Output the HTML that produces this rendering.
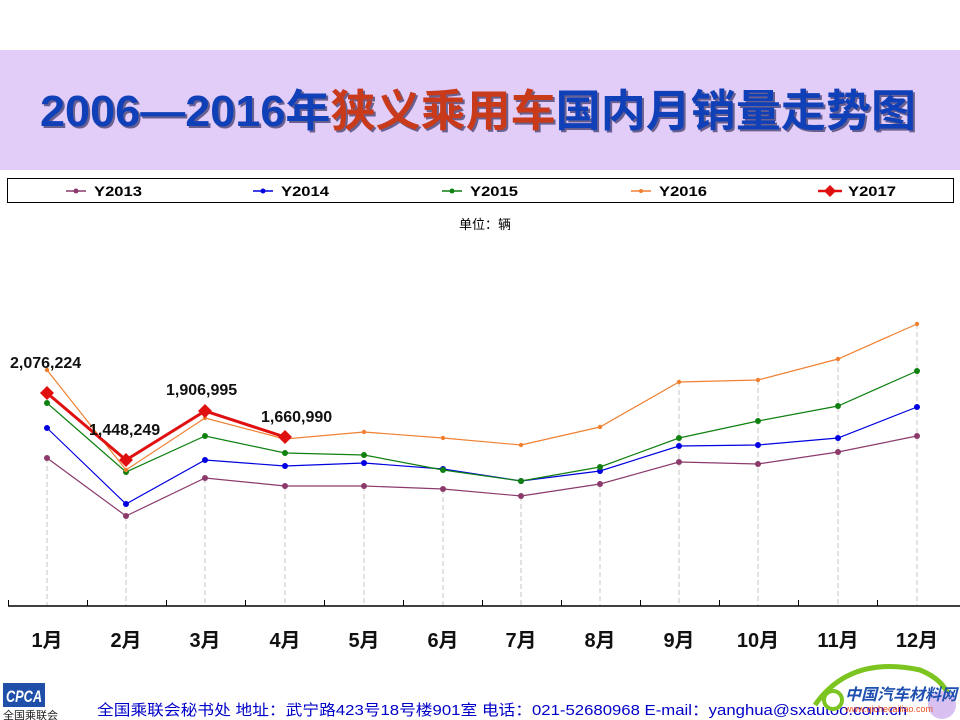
<!DOCTYPE html>
<html><head><meta charset="utf-8"><style>
html,body{margin:0;padding:0;background:#fff;}
svg{display:block;}
text{font-family:"Liberation Sans","Noto Sans CJK SC",sans-serif;}
</style></head><body>
<svg width="960" height="720" viewBox="0 0 960 720" xmlns="http://www.w3.org/2000/svg">
<rect x="0" y="50" width="960" height="120" fill="#E2CCF8"/>
<g font-weight="bold" font-size="44">
<text x="42" y="128" fill="#1a1a4a" opacity="0.6" textLength="876" lengthAdjust="spacingAndGlyphs"><tspan>2006—2016年狭义乘用车国内月销量走势图</tspan></text>
<text x="40" y="126" textLength="876" lengthAdjust="spacingAndGlyphs"><tspan fill="#1040B8">2006—2016年</tspan><tspan fill="#C83A1A">狭义乘用车</tspan><tspan fill="#1040B8">国内月销量走势图</tspan></text>
</g>
<rect x="7.5" y="178.5" width="946" height="24" fill="#fff" stroke="#000" stroke-width="1"/>
<g font-size="14" font-weight="bold" fill="#000">
<line x1="66" y1="191" x2="86" y2="191" stroke="#8B3A6B" stroke-width="1.5"/><circle cx="76" cy="191" r="2.5" fill="#8B3A6B"/><text x="94" y="196" textLength="48" lengthAdjust="spacingAndGlyphs">Y2013</text>
<line x1="253" y1="191" x2="273" y2="191" stroke="#0000E0" stroke-width="1.5"/><circle cx="263" cy="191" r="2.5" fill="#0000E0"/><text x="281" y="196" textLength="48" lengthAdjust="spacingAndGlyphs">Y2014</text>
<line x1="442" y1="191" x2="462" y2="191" stroke="#108010" stroke-width="1.5"/><circle cx="452" cy="191" r="2.5" fill="#108010"/><text x="470" y="196" textLength="48" lengthAdjust="spacingAndGlyphs">Y2015</text>
<line x1="631" y1="191" x2="651" y2="191" stroke="#F08030" stroke-width="1.5"/><circle cx="641" cy="191" r="2" fill="#F08030"/><text x="659" y="196" textLength="48" lengthAdjust="spacingAndGlyphs">Y2016</text>
<line x1="818" y1="191" x2="842" y2="191" stroke="#E01010" stroke-width="2.5"/><path d="M830 185 L836 191 L830 197 L824 191Z" fill="#E01010"/><text x="848" y="196" textLength="48" lengthAdjust="spacingAndGlyphs">Y2017</text>
</g>
<text x="485" y="229" font-size="13" text-anchor="middle">单位：辆</text>
<g stroke="#c4c4c4" stroke-width="1" stroke-dasharray="5,3">
<line x1="47" y1="458" x2="47" y2="606"/><line x1="126" y1="516" x2="126" y2="606"/><line x1="205" y1="478" x2="205" y2="606"/><line x1="285" y1="486" x2="285" y2="606"/><line x1="364" y1="486" x2="364" y2="606"/><line x1="443" y1="489" x2="443" y2="606"/><line x1="521" y1="496" x2="521" y2="606"/><line x1="600" y1="484" x2="600" y2="606"/><line x1="679" y1="382" x2="679" y2="606"/><line x1="758" y1="380" x2="758" y2="606"/><line x1="838" y1="359" x2="838" y2="606"/><line x1="917" y1="324" x2="917" y2="606"/>
</g>
<line x1="8" y1="606" x2="960" y2="606" stroke="#000" stroke-width="1.5"/>
<g stroke="#000" stroke-width="1">
<line x1="8.5" y1="600" x2="8.5" y2="606"/><line x1="87.5" y1="600" x2="87.5" y2="606"/><line x1="166.5" y1="600" x2="166.5" y2="606"/><line x1="245.5" y1="600" x2="245.5" y2="606"/><line x1="324.5" y1="600" x2="324.5" y2="606"/><line x1="403.5" y1="600" x2="403.5" y2="606"/><line x1="482.5" y1="600" x2="482.5" y2="606"/><line x1="561.5" y1="600" x2="561.5" y2="606"/><line x1="640.5" y1="600" x2="640.5" y2="606"/><line x1="719.5" y1="600" x2="719.5" y2="606"/><line x1="798.5" y1="600" x2="798.5" y2="606"/><line x1="877.5" y1="600" x2="877.5" y2="606"/>
</g>
<g fill="none" stroke-width="1.2">
<polyline stroke="#8B3A6B" points="47,458 126,516 205,478 285,486 364,486 443,489 521,496 600,484 679,462 758,464 838,452 917,436"/>
<polyline stroke="#0000E0" points="47,428 126,504 205,460 285,466 364,463 443,469 521,481 600,471 679,446 758,445 838,438 917,407"/>
<polyline stroke="#108010" points="47,403 126,472 205,436 285,453 364,455 443,470 521,481 600,467 679,438 758,421 838,406 917,371"/>
<polyline stroke="#F08030" points="47,370 126,470 205,418 285,439 364,432 443,438 521,445 600,427 679,382 758,380 838,359 917,324"/>
<polyline stroke="#E01010" stroke-width="3" points="47,393 126,460 205,411 285,437"/>
</g>
<g fill="#8B3A6B"><circle cx="47" cy="458" r="3"/><circle cx="126" cy="516" r="3"/><circle cx="205" cy="478" r="3"/><circle cx="285" cy="486" r="3"/><circle cx="364" cy="486" r="3"/><circle cx="443" cy="489" r="3"/><circle cx="521" cy="496" r="3"/><circle cx="600" cy="484" r="3"/><circle cx="679" cy="462" r="3"/><circle cx="758" cy="464" r="3"/><circle cx="838" cy="452" r="3"/><circle cx="917" cy="436" r="3"/></g>
<g fill="#0000E0"><circle cx="47" cy="428" r="3"/><circle cx="126" cy="504" r="3"/><circle cx="205" cy="460" r="3"/><circle cx="285" cy="466" r="3"/><circle cx="364" cy="463" r="3"/><circle cx="443" cy="469" r="3"/><circle cx="521" cy="481" r="3"/><circle cx="600" cy="471" r="3"/><circle cx="679" cy="446" r="3"/><circle cx="758" cy="445" r="3"/><circle cx="838" cy="438" r="3"/><circle cx="917" cy="407" r="3"/></g>
<g fill="#108010"><circle cx="47" cy="403" r="3"/><circle cx="126" cy="472" r="3"/><circle cx="205" cy="436" r="3"/><circle cx="285" cy="453" r="3"/><circle cx="364" cy="455" r="3"/><circle cx="443" cy="470" r="3"/><circle cx="521" cy="481" r="3"/><circle cx="600" cy="467" r="3"/><circle cx="679" cy="438" r="3"/><circle cx="758" cy="421" r="3"/><circle cx="838" cy="406" r="3"/><circle cx="917" cy="371" r="3"/></g>
<g fill="#F08030"><circle cx="47" cy="370" r="2.2"/><circle cx="126" cy="470" r="2.2"/><circle cx="205" cy="418" r="2.2"/><circle cx="285" cy="439" r="2.2"/><circle cx="364" cy="432" r="2.2"/><circle cx="443" cy="438" r="2.2"/><circle cx="521" cy="445" r="2.2"/><circle cx="600" cy="427" r="2.2"/><circle cx="679" cy="382" r="2.2"/><circle cx="758" cy="380" r="2.2"/><circle cx="838" cy="359" r="2.2"/><circle cx="917" cy="324" r="2.2"/></g>
<g fill="#E01010"><path d="M47 386 L54 393 L47 400 L40 393Z"/><path d="M126 453 L133 460 L126 467 L119 460Z"/><path d="M205 404 L212 411 L205 418 L198 411Z"/><path d="M285 430 L292 437 L285 444 L278 437Z"/></g>
<g font-size="16" font-weight="bold" fill="#111">
<text x="10" y="368">2,076,224</text>
<text x="89" y="435">1,448,249</text>
<text x="166" y="395">1,906,995</text>
<text x="261" y="422">1,660,990</text>
</g>
<g font-size="20" font-weight="bold" fill="#111" text-anchor="middle">
<text x="47" y="647">1月</text><text x="126" y="647">2月</text><text x="205" y="647">3月</text><text x="285" y="647">4月</text><text x="364" y="647">5月</text><text x="443" y="647">6月</text><text x="521" y="647">7月</text><text x="600" y="647">8月</text><text x="679" y="647">9月</text><text x="758" y="647">10月</text><text x="838" y="647">11月</text><text x="917" y="647">12月</text>
</g>
<rect x="3" y="683" width="42" height="24" fill="#1F4FA8"/>
<text x="6" y="702" font-size="17" font-style="italic" font-weight="bold" fill="#fff" textLength="36" lengthAdjust="spacingAndGlyphs">CPCA</text>
<text x="3" y="719" font-size="11" fill="#222">全国乘联会</text>
<text x="97" y="715" font-size="15" fill="#0000C8" textLength="810" lengthAdjust="spacingAndGlyphs">全国乘联会秘书处 地址：武宁路423号18号楼901室   电话：021-52680968  E-mail：yanghua@sxautoo.com.cn</text>
<path d="M815 705 Q850 655 920 670 Q945 680 950 700" fill="none" stroke="#7CC520" stroke-width="5"/>
<circle cx="833" cy="700" r="9" fill="none" stroke="#7CC520" stroke-width="4"/>
<circle cx="942" cy="705" r="14" fill="#D8C0F0"/>
<text x="845" y="700" font-size="16" font-weight="bold" font-style="italic" fill="#1F50B0">中国汽车材料网</text>
<text x="845" y="712" font-size="9" fill="#E85020">www.qichecailiao.com</text>
</svg>
</body></html>
